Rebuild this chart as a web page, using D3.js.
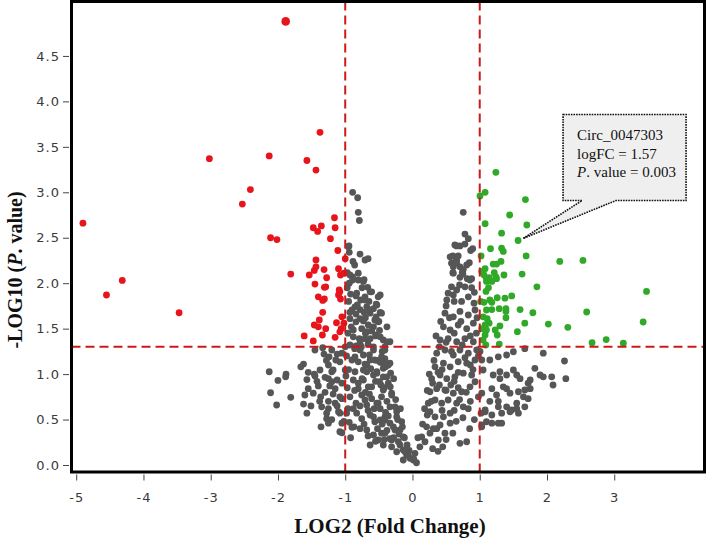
<!DOCTYPE html>
<html>
<head>
<meta charset="utf-8">
<script src="https://cdn.jsdelivr.net/npm/d3@7"></script>
<style>
  body { margin: 0; background: #fff; }
  svg { display: block; }
  .tick text { font-family: "DejaVu Sans", Verdana, sans-serif; font-size: 13px; fill: #3a3a3a; letter-spacing: 1px; }
  .tick line { stroke: #444; }
  .title { font-family: "Liberation Serif", "Times New Roman", serif; font-weight: bold; fill: #111; }
  .note { font-family: "Liberation Serif", "Times New Roman", serif; font-size: 15px; fill: #111; }
</style>
</head>
<body>
<svg width="709" height="540"></svg>
<script>
// ---- data: [log2 fold change, -log10 p] ----
var xTicks = [-5, -4, -3, -2, -1, 0, 1, 2, 3];
var yTicks = [0, 0.5, 1, 1.5, 2, 2.5, 3, 3.5, 4, 4.5];
var fcCut = [-1, 1];
var pCut = 1.301;

var redPoints = [
  [-1.885,4.88],[-1.375,3.66],[-3.02,3.37],[-2.13,3.40],[-1.57,3.35],[-1.435,3.245],[-2.41,3.03],[-2.53,2.87],
  [-4.90,2.66],[-1.16,2.72],[-1.15,2.61],[-1.475,2.61],[-1.355,2.63],[-1.41,2.57],[-2.11,2.50],[-2.015,2.48],
  [-1.22,2.49],[-1.11,2.36],[-1.00,2.27],[-1.435,2.255],[-1.435,2.18],[-1.315,2.15],[-1.10,2.16],[-1.81,2.10],
  [-1.535,2.09],[-1.46,2.14],[-4.315,2.03],[-4.55,1.87],[-3.47,1.675],[-1.276,2.06],[-1.02,2.11],[-1.07,2.09],
  [-1.45,1.99],[-1.31,1.955],[-1.09,1.925],[-1.40,1.85],[-1.31,1.826],[-1.07,1.826],[-1.10,1.87],[-1.335,1.68],
  [-1.385,1.595],[-1.40,1.52],[-1.29,1.50],[-1.05,1.63],[-1.13,1.565],[-1.06,1.50],[-1.02,1.56],[-1.61,1.42],
  [-1.475,1.365],[-1.34,1.43],[-1.15,1.405],[-1.08,1.465],[-1.46,1.54],[-1.335,1.81],[-1.29,1.96],[-1.08,1.905]
];

var greenPoints = [
  [1.24,3.22],[1.08,3.00],[1.004,2.96],[1.68,2.92],[1.445,2.75],[1.08,2.655],[1.70,2.64],[1.325,2.55],
  [1.57,2.47],[1.16,2.38],[1.325,2.385],[1.35,2.35],[1.69,2.30],[2.19,2.24],[2.535,2.25],[1.20,2.21],
  [1.25,2.21],[1.08,2.16],[1.03,2.13],[1.216,2.115],[1.36,2.09],[1.63,2.10],[1.316,2.24],[1.063,2.09],
  [1.24,2.07],[1.10,2.05],[1.10,2.02],[1.18,2.02],[1.25,2.05],[1.14,2.06],[1.85,1.96],[1.093,1.91],
  [1.014,1.80],[1.063,1.79],[1.15,1.815],[1.18,1.79],[1.26,1.84],[1.375,1.835],[1.475,1.86],[1.10,1.705],
  [1.18,1.71],[1.29,1.72],[1.39,1.69],[1.60,1.71],[1.79,1.675],[1.05,1.63],[1.11,1.61],[1.39,1.62],
  [1.14,1.56],[1.08,1.54],[1.30,1.53],[1.67,1.56],[2.02,1.55],[1.03,1.50],[1.10,1.485],[1.23,1.485],
  [1.26,1.43],[1.56,1.467],[1.08,1.43],[1.05,1.375],[1.29,1.33],[1.09,1.32],[3.48,1.91],[2.59,1.683],
  [2.31,1.515],[3.43,1.573],[2.67,1.345],[2.88,1.38],[3.135,1.34],[1.39,1.72],[1.02,2.30],[1.13,1.95]
];

var grayPoints = [
  // left arm, upper
  [-0.89,3.00],[-0.815,2.94],[-0.806,2.78],[-0.79,2.69],[-0.944,2.41],[-0.94,2.34],[-0.885,2.24],[-0.706,2.255],
  [-0.66,2.27],[-0.97,2.115],[-0.89,2.07],[-0.72,2.04],[-0.955,2.40],[-0.806,2.11],[-0.93,2.09],[-0.89,2.035],
  [-0.94,2.00],[-0.73,2.02],[-0.666,1.955],[-0.607,1.905],[-0.84,1.86],[-0.77,1.815],[-0.82,1.76],[-0.706,1.85],
  [-0.647,1.80],[-0.68,1.74],[-0.51,1.85],[-0.54,1.77],[-0.90,1.705],[-0.78,1.71],[-0.84,1.66],[-0.63,1.67],
  [-0.54,1.63],[-0.48,1.68],[-0.93,1.61],[-0.84,1.575],[-0.91,1.52],[-0.73,1.585],[-0.657,1.54],[-0.755,1.50],
  [-0.58,1.52],[-0.51,1.575],[-0.607,1.475],[-0.88,1.41],[-0.79,1.39],[-0.706,1.39],[-0.63,1.39],[-0.54,1.43],
  [-0.434,1.375],[-0.38,1.355],[-0.41,1.30],
  // left, around the p cut
  [-1.335,1.29],[-1.45,1.265],[-1.316,1.22],[-1.20,1.265],[-1.24,1.19],[-1.14,1.155],[-1.05,1.23],[-1.00,1.30],
  [-1.08,1.135],[-0.93,1.32],[-0.84,1.31],[-0.78,1.265],[-0.73,1.21],[-0.64,1.21],[-0.58,1.265],[-0.90,1.155],
  [-0.806,1.135],[-0.706,1.11],[-0.56,1.155],[-0.48,1.13],[-0.41,1.17],[-0.36,1.10],[-0.434,1.064],[-1.62,1.11],
  [-1.66,1.08],[-1.375,1.045],[-1.25,1.10],[-1.20,1.026],[-1.00,1.045],[-0.855,1.026],[-0.68,1.026],[-0.53,1.026],
  [-1.88,1.00],[-1.46,1.00],
  // left, lower
  [-2.13,1.026],[-2.00,0.93],[-1.886,0.97],[-2.11,0.795],[-2.02,0.66],[-1.81,0.745],[-1.57,0.94],[-1.45,0.98],
  [-1.55,0.84],[-1.40,0.87],[-1.475,0.79],[-1.62,0.67],[-1.51,0.65],[-1.57,0.57],[-1.365,0.75],[-1.30,0.965],
  [-1.23,0.87],[-1.35,0.64],[-1.25,0.62],[-1.276,0.51],[-1.36,0.42],[-1.25,0.46],[-1.18,1.045],[-1.12,0.935],
  [-1.15,0.84],[-1.08,0.75],[-1.15,0.68],[-1.10,0.586],[-1.05,0.355],[-0.87,0.42],[-1.60,0.77],[-1.25,0.70],
  [-1.20,0.916],[-1.276,0.57],[-1.08,0.57],[-1.05,0.73],[-1.08,0.366],[-1.05,0.46],
  [-1.28,1.15],[-1.12,1.22],[-1.25,0.95],[-1.18,0.78],[-1.30,0.80],[-1.05,0.90],[-1.12,0.65],[-1.20,0.50],
  [-1.02,0.48],[-1.38,0.70],[-1.42,0.92],[-1.55,1.02],
  // left arm, middle and base
  [-0.88,0.935],[-0.806,0.84],[-0.73,0.935],[-0.657,0.86],[-0.58,0.99],[-0.49,0.916],[-0.434,0.97],[-0.36,0.90],
  [-0.325,1.01],[-0.93,0.75],[-0.84,0.68],[-0.755,0.77],[-0.68,0.66],[-0.607,0.73],[-0.53,0.68],[-0.46,0.75],
  [-0.38,0.70],[-0.31,0.77],[-0.26,0.64],[-0.98,0.57],[-0.83,0.57],[-0.755,0.51],[-0.63,0.55],[-0.56,0.476],
  [-0.48,0.495],[-0.41,0.53],[-0.335,0.46],[-0.235,0.53],[-0.16,0.476],[-0.90,0.415],[-0.68,0.385],[-0.58,0.33],
  [-0.51,0.275],[-0.41,0.35],[-0.335,0.29],[-0.26,0.385],[-0.21,0.256],[-0.137,0.31],[-0.63,0.22],[-0.434,0.22],
  [-0.31,0.20],[-0.235,0.146],[-0.137,0.165],[-0.086,0.11],[-0.037,0.074],[0.02,0.063],[0.06,0.025],
  [-0.806,2.035],[-0.63,1.905],[-0.48,1.87],[-0.83,1.89],[-0.706,1.815],[-0.53,1.76],[-0.855,1.74],[-0.63,1.705],
  [-0.46,1.67],[-0.78,1.61],[-0.56,1.595],[-0.38,1.52],[-0.88,1.485],[-0.68,1.467],[-0.48,1.41],[-0.335,1.356],
  [-0.78,1.34],[-0.58,1.30],[-0.41,1.265],[-0.855,1.19],[-0.63,1.155],[-0.46,1.19],[-0.335,1.12],[-0.73,1.045],
  [-0.53,1.01],[-0.38,0.97],[-0.806,0.90],[-0.607,0.86],[-0.434,0.825],[-0.31,0.79],[-0.706,0.715],[-0.51,0.68],
  [-0.335,0.64],[-0.235,0.586],[-0.58,0.53],[-0.41,0.495],[-0.285,0.42],[-0.186,0.385],[-0.46,0.35],[-0.31,0.275],
  [-0.186,0.22],[-0.11,0.146],[-0.062,0.11],[-0.137,0.055],[0.012,0.055],
  [-0.97,1.95],[-0.95,1.80],[-0.93,1.68],[-0.96,1.45],[-0.95,1.05],[-0.97,0.85],[-0.96,0.62],[-0.94,0.47],
  [-0.75,1.95],[-0.72,1.68],[-0.70,1.45],[-0.76,1.30],[-0.68,1.10],[-0.75,0.95],[-0.70,0.80],[-0.78,0.65],
  [-0.66,0.60],[-0.72,0.45],[-0.66,0.32],[-0.58,1.72],[-0.50,1.58],[-0.55,1.42],[-0.45,1.25],[-0.52,1.15],
  [-0.40,1.08],[-0.55,0.92],[-0.42,0.85],[-0.48,0.62],[-0.40,0.58],[-0.52,0.40],[-0.45,0.45],[-0.38,0.38],
  [-0.42,0.28],[-0.28,0.95],[-0.25,0.72],[-0.22,0.50],[-0.18,0.62],[-0.15,0.42],[-0.12,0.30],[-0.08,0.22],
  [-0.05,0.16],[-0.20,0.34],
  [-0.86,1.28],[-0.66,1.33],[-0.49,1.48],[-0.62,1.06],[-0.44,1.12],[-0.86,0.82],[-0.64,0.78],[-0.47,0.88],
  [-0.33,0.86],[-0.88,0.62],[-0.57,0.62],[-0.36,0.54],[-0.78,0.40],[-0.55,0.26],[-0.28,0.30],[-0.70,1.62],
  [-0.92,1.88],[-0.86,2.20],[-0.78,2.32],[-0.98,1.20],[-0.99,0.98],[-0.92,0.30],
  // right arm
  [0.755,2.78],[0.78,2.54],[0.83,2.49],[0.657,2.41],[0.706,2.41],[0.78,2.43],[0.865,2.36],[0.895,2.38],
  [0.60,2.30],[0.63,2.23],[0.58,2.22],[0.706,2.18],[0.755,2.15],[0.74,2.12],[0.845,2.225],[0.60,2.115],
  [0.706,2.065],[0.815,2.05],[0.63,2.42],[0.56,2.29],[0.657,2.255],[0.607,2.18],
  [0.037,0.128],[0.11,0.20],[0.186,0.256],[0.137,0.31],[0.26,0.35],[0.21,0.42],[0.31,0.40],[0.384,0.275],
  [0.483,0.35],[0.41,0.44],[0.56,0.46],[0.335,0.53],[0.26,0.586],[0.46,0.53],[0.56,0.57],[0.235,0.68],
  [0.335,0.715],[0.434,0.68],[0.53,0.715],[0.657,0.68],[0.755,0.64],[0.83,0.62],[0.806,0.256],[0.706,0.238],
  [0.26,0.806],[0.36,0.84],[0.483,0.825],[0.607,0.79],[0.73,0.806],[0.855,0.86],[0.93,0.916],[0.285,0.95],
  [0.41,0.99],[0.51,0.95],[0.63,0.97],[0.755,1.01],[0.88,0.99],[0.335,1.08],[0.46,1.12],[0.56,1.08],
  [0.68,1.136],[0.806,1.12],[0.93,1.155],[0.36,1.23],[0.483,1.265],[0.607,1.21],[0.706,1.265],[0.83,1.23],
  [0.955,1.265],[0.41,1.375],[0.53,1.39],[0.657,1.356],[0.78,1.39],[0.905,1.356],[0.46,1.52],[0.56,1.485],
  [0.68,1.54],[0.806,1.50],[0.905,1.56],[0.483,1.67],[0.607,1.63],[0.706,1.69],[0.83,1.65],[0.93,1.705],
  [0.51,1.815],[0.607,1.87],[0.73,1.80],[0.83,1.85],[0.915,1.78],[0.53,1.89],[0.657,1.925],[0.78,1.96],
  [0.855,2.035],[0.58,1.96],[0.607,2.11],[0.806,2.20],[0.657,2.22],
  [0.08,0.30],[0.15,0.45],[0.22,0.55],[0.18,0.62],[0.28,0.70],[0.22,0.82],[0.30,0.90],[0.25,1.00],
  [0.38,1.02],[0.32,1.15],[0.40,1.30],[0.35,1.42],[0.50,1.35],[0.42,1.58],[0.55,1.62],[0.50,1.75],
  [0.62,1.80],[0.70,1.98],[0.75,2.10],[0.68,2.30],[0.88,2.05],[0.92,1.90],[0.95,1.45],[0.98,1.20],
  [0.90,1.05],[0.98,0.75],[0.92,0.50],[0.85,0.40],[0.60,0.35],[0.45,0.20],[0.38,0.15],[0.30,0.18],
  [0.65,0.48],[0.75,0.52],[0.70,0.72],[0.80,0.80],[0.50,0.82],[0.62,0.92],[0.78,1.18],[0.62,1.45],[0.72,1.58],
  [0.44,1.05],[0.58,1.25],[0.74,1.32],[0.86,1.42],[0.68,1.02],[0.86,1.10],[0.40,0.88],[0.57,0.88],
  [0.68,0.85],[0.44,0.60],[0.62,0.60],[0.86,0.70],[0.36,0.40],[0.50,0.28],[0.96,1.62],[0.88,1.95],
  // right of fc cut, not significant
  [1.004,1.25],[1.15,1.155],[1.276,1.19],[1.40,1.21],[1.50,1.246],[1.67,1.28],[1.945,1.23],[2.26,1.144],
  [2.28,0.95],[2.07,0.97],[2.09,0.88],[1.896,0.99],[1.82,1.064],[1.75,0.935],[1.60,0.95],[1.50,1.045],
  [1.40,0.99],[1.30,0.95],[1.20,0.99],[1.18,0.84],[1.35,0.86],[1.45,0.79],[1.575,0.806],[1.65,0.75],
  [1.75,0.84],[1.55,0.68],[1.40,0.64],[1.276,0.70],[1.18,0.55],[1.326,0.57],[1.45,0.586],[1.55,0.62],
  [1.18,0.46],[1.276,0.46],[1.03,0.79],[1.05,1.045],[1.03,1.155],[1.08,0.586],[1.03,0.44],
  [1.30,1.026],[1.55,0.99],[1.72,0.90],[1.945,0.97],[1.67,0.825],[1.40,0.84],[1.25,0.77],[1.15,0.70],
  [1.276,0.64],[1.475,0.605],[1.575,0.57],[1.67,0.64],[1.72,0.73],[1.08,0.605],[1.10,0.476],[1.326,0.46],
  [1.02,0.57],[1.03,0.42]
];

var callout = { fc: 1.57, p: 2.47, lines: ["Circ_0047303", "logFC = 1.57", "P. value = 0.003"] };

// ---- chart ----
var svg = d3.select("svg");

var x = d3.scaleLinear().domain([-5.07, 4.342]).range([71.5, 704.5]);
var y = d3.scaleLinear().domain([-0.077, 5.099]).range([472, 1.5]);

// axes (plain hyphen for minus, like the original)
svg.append("g")
    .attr("transform", "translate(69,0)")
    .call(d3.axisLeft(y).tickValues(yTicks).tickSize(6).tickPadding(3)
          .tickFormat(function(d){ return d.toFixed(1); }))
    .call(function(g){ g.select(".domain").remove(); });

svg.append("g")
    .attr("transform", "translate(0,474.5)")
    .call(d3.axisBottom(x).tickValues(xTicks).tickSize(6).tickPadding(12).tickFormat(String))
    .call(function(g){ g.select(".domain").remove(); });

// points
function dots(data, col, cls) {
  svg.append("g").selectAll("circle." + cls)
    .data(data)
    .enter().append("circle")
      .attr("class", cls)
      .attr("cx", function(d){ return x(d[0]); })
      .attr("cy", function(d){ return y(d[1]); })
      .attr("r", function(d){ return d[1] > 4.5 ? 4.3 : 3.4; })
      .attr("fill", col);
}
dots(grayPoints, "#565656", "gray");
dots(redPoints, "#e8141c", "red");
dots(greenPoints, "#30a828", "green");

// cut lines
var cutCol = "#cc1a1a";
svg.append("g").selectAll("line.v")
  .data(fcCut)
  .enter().append("line")
    .attr("x1", function(d){ return x(d); })
    .attr("x2", function(d){ return x(d); })
    .attr("y1", y.range()[1])
    .attr("y2", y.range()[0])
    .attr("stroke", cutCol).attr("stroke-width", 2).attr("stroke-dasharray", "9,5");

svg.append("line")
    .attr("x1", x.range()[0]).attr("x2", x.range()[1])
    .attr("y1", y(pCut)).attr("y2", y(pCut))
    .attr("stroke", cutCol).attr("stroke-width", 2).attr("stroke-dasharray", "9,5");

// frame
svg.append("rect")
    .attr("x", 71.5).attr("y", 1.5)
    .attr("width", 704.5 - 71.5).attr("height", 472 - 1.5)
    .attr("fill", "none").attr("stroke", "#000").attr("stroke-width", 3);

// callout
var tx = x(callout.fc) + 5, ty = y(callout.p) - 2;
var bx = tx + 40, by = ty - 124, bw = 123, bh = 86;
svg.append("path")
    .attr("d", "M" + bx + "," + by + "H" + (bx + bw) + "V" + (by + bh) + "H" + (bx + 53) +
               "L" + tx + "," + ty + "L" + (bx + 19) + "," + (by + bh) + "H" + bx + "Z")
    .attr("fill", "#efefef").attr("stroke", "#111").attr("stroke-width", 1.6)
    .attr("stroke-dasharray", "1.6,1");

var note = svg.append("text").attr("class", "note");
callout.lines.forEach(function(s, i){
  var t = note.append("tspan").attr("x", bx + 14).attr("y", by + 26 + i * 18.5);
  if (s.indexOf("P.") === 0) {
    t.append("tspan").attr("font-style", "italic").text("P");
    t.append("tspan").text(s.slice(1));
  } else {
    t.text(s);
  }
});

// titles
svg.append("text").attr("class", "title")
    .attr("x", 390).attr("y", 533)
    .attr("text-anchor", "middle").attr("font-size", 21)
    .text("LOG2 (Fold Change)");

var yt = svg.append("text").attr("class", "title")
    .attr("transform", "translate(22,270) rotate(-90)")
    .attr("text-anchor", "middle").attr("font-size", 20);
yt.append("tspan").text("-LOG10 (");
yt.append("tspan").attr("font-style", "italic").text("P");
yt.append("tspan").text(". value)");
</script>
</body>
</html>
